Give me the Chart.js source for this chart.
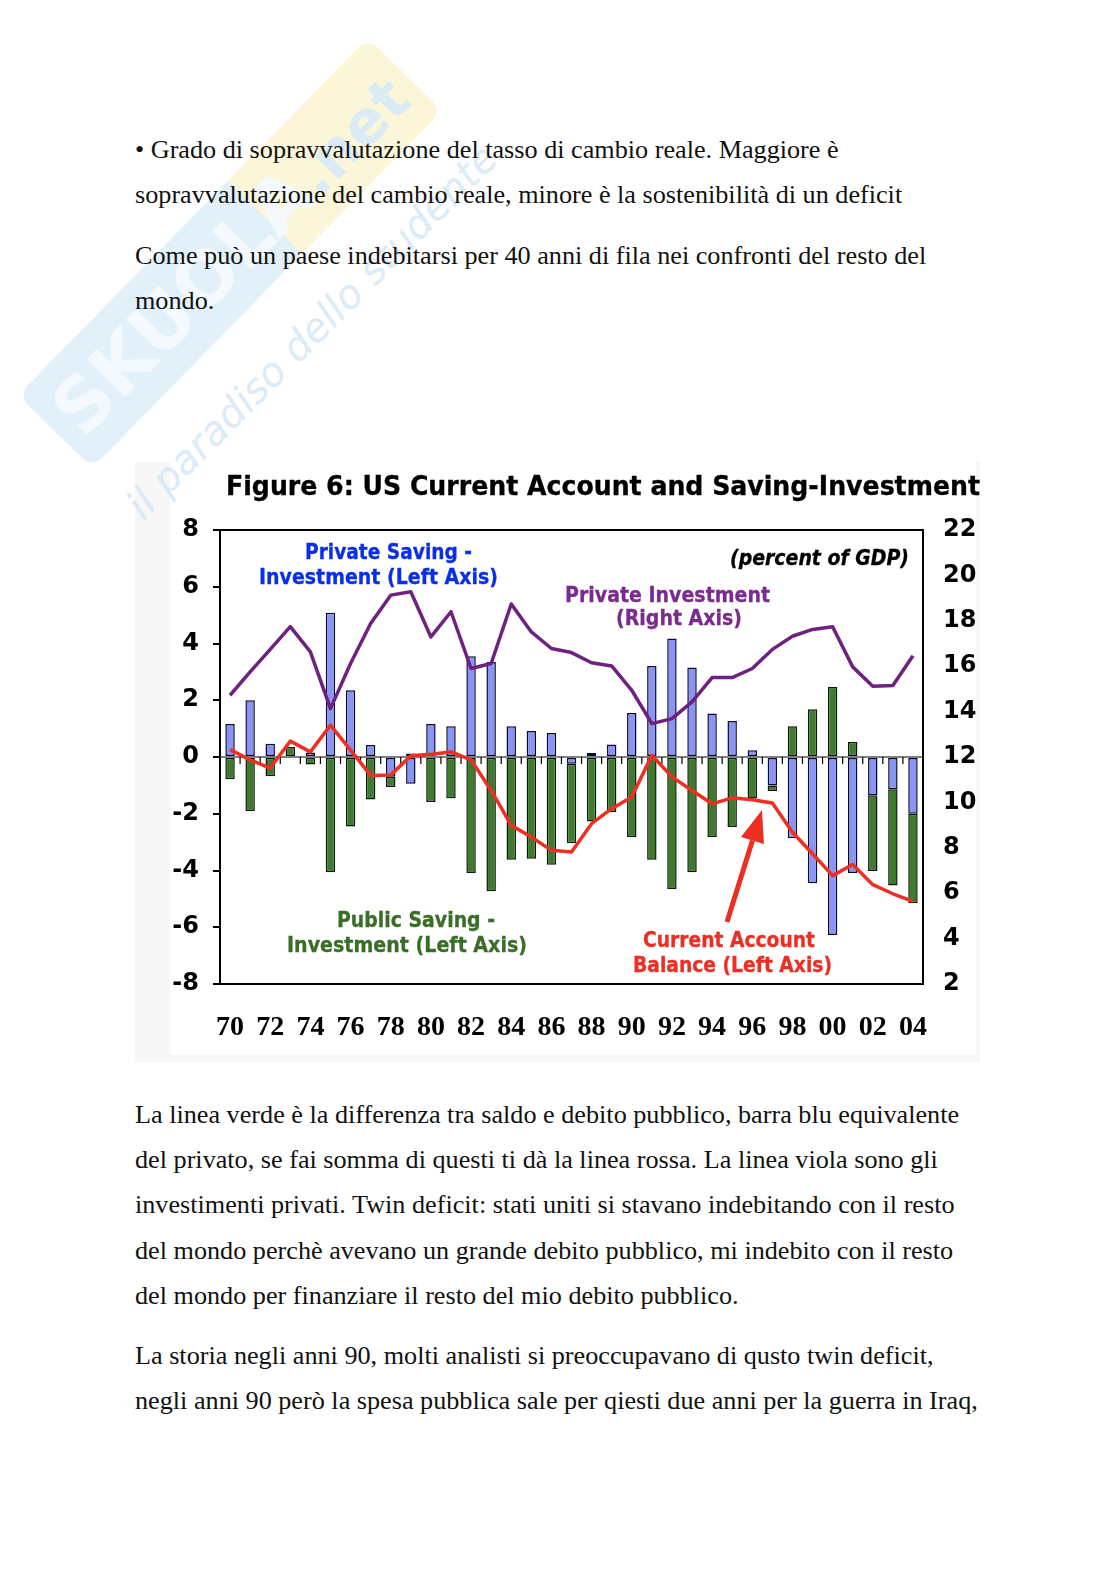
<!DOCTYPE html>
<html lang="it">
<head>
<meta charset="UTF-8">
<title>Figure 6: US Current Account and Saving-Investment</title>
<script src="https://cdn.jsdelivr.net/npm/chart.js"></script>
<style>
  body { margin: 0; width: 1116px; height: 1579px; background: #fff; position: relative; overflow: hidden; }
  .txt { position: absolute; left: 135px; font-family: "Liberation Serif", serif; font-size: 26.2px; line-height: 30px; color: #111; white-space: nowrap; z-index: 3; }
  .shade { position: absolute; left: 135px; top: 462px; width: 845px; height: 600px; background: #f7f7f7; z-index: 1; }
  .inner { position: absolute; left: 170px; top: 462px; width: 806px; height: 593px; background: #fff; z-index: 1; }
  #wrap { position: absolute; left: 130px; top: 455px; width: 870px; height: 600px; z-index: 4; }
  .band { position: absolute; left: -20px; top: 201px; width: 500px; height: 104px; transform: rotate(-45.6deg); border-radius: 14px;
          background: linear-gradient(90deg, #dcedf8 0%, #dcedf8 60%, #fbf5cf 60%, #fbf5cf 100%);
          opacity: 0.8; z-index: 2; font-family: "DejaVu Sans", sans-serif; font-weight: bold; font-size: 74px; line-height: 104px;
          color: #f1f8fd; overflow: hidden; white-space: nowrap; padding-left: 14px; box-sizing: border-box; }
  .band span { color: #d3e7f5; font-size: 60px; }
  .tag { position: absolute; left: 62px; top: 318px; width: 480px; transform: rotate(-45.3deg); font-family: "DejaVu Sans", sans-serif;
         font-style: italic; font-size: 40px; color: #d6e8f5; opacity: 0.85; white-space: nowrap; z-index: 2; }
</style>
</head>
<body>
<div class="band">SKUOLA<span>.net</span></div>
<div class="tag">il paradiso dello studente</div>

<div class="txt" style="top:135px">• Grado di sopravvalutazione del tasso di cambio reale. Maggiore è</div>
<div class="txt" style="top:180px">sopravvalutazione del cambio reale, minore è la sostenibilità di un deficit</div>
<div class="txt" style="top:241px">Come può un paese indebitarsi per 40 anni di fila nei confronti del resto del</div>
<div class="txt" style="top:286px">mondo.</div>

<div class="shade"></div>
<div class="inner"></div>
<div id="wrap"><canvas id="chart" width="870" height="600"></canvas></div>

<div class="txt" style="top:1100px">La linea verde è la differenza tra saldo e debito pubblico, barra blu equivalente</div>
<div class="txt" style="top:1145px">del privato, se fai somma di questi ti dà la linea rossa. La linea viola sono gli</div>
<div class="txt" style="top:1190px">investimenti privati. Twin deficit: stati uniti si stavano indebitando con il resto</div>
<div class="txt" style="top:1236px">del mondo perchè avevano un grande debito pubblico, mi indebito con il resto</div>
<div class="txt" style="top:1281px">del mondo per finanziare il resto del mio debito pubblico.</div>
<div class="txt" style="top:1341px">La storia negli anni 90, molti analisti si preoccupavano di qusto twin deficit,</div>
<div class="txt" style="top:1386px">negli anni 90 però la spesa pubblica sale per qiesti due anni per la guerra in Iraq,</div>

<script>
// data (percent of GDP), 1970-2004
const years = ['70','71','72','73','74','75','76','77','78','79','80','81','82','83','84','85','86','87',
               '88','89','90','91','92','93','94','95','96','97','98','99','00','01','02','03','04'];
const privateSI = [1.16, 2.0, 0.47, 0.0, 0.16, 5.08, 2.35, 0.42, -0.7, -0.94, 1.16, 1.08, 3.55, 3.35, 1.08, 0.92, 0.85, -0.24,
                   0.14, 0.44, 1.55, 3.21, 4.18, 3.15, 1.53, 1.27, 0.24, -1.0, -2.86, -4.45, -6.27, -4.09, -1.35, -1.14, -2.0];
const publicSI = [-0.78, -1.9, -0.68, 0.35, -0.26, -4.06, -2.45, -1.5, -0.36, 0.12, -1.59, -1.45, -4.09, -4.73, -3.62, -3.59, -3.8, -2.8,
                  -2.27, -1.95, -2.82, -3.62, -4.65, -4.06, -2.82, -2.47, -1.46, -0.2, 1.08, 1.68, 2.47, 0.53, -2.67, -3.39, -3.15];
const currentAccount = [0.26, -0.1, -0.39, 0.56, 0.18, 1.12, 0.24, -0.65, -0.63, 0.04, 0.1, 0.18, -0.1, -1.18, -2.41, -2.82, -3.29, -3.35,
                        -2.35, -1.82, -1.41, 0.06, -0.7, -1.18, -1.65, -1.44, -1.51, -1.62, -2.65, -3.41, -4.18, -3.79, -4.5, -4.82, -5.09];
const privateInvestment = [14.72, 15.75, 16.74, 17.74, 16.63, 14.13, 16.12, 17.88, 19.13, 19.28, 17.29, 18.4, 15.9, 16.12, 18.74, 17.51, 16.78, 16.6,
                           16.15, 16.01, 14.94, 13.47, 13.69, 14.43, 15.5, 15.5, 15.9, 16.74, 17.32, 17.62, 17.74, 15.97, 15.12, 15.15, 16.46];
const leftTicks = [-8, -6, -4, -2, 0, 2, 4, 6, 8];
const rightTicks = [2, 4, 6, 8, 10, 12, 14, 16, 18, 20, 22];

// draw text squeezed to the width it has in the figure (a light stroke makes it heavier)
function fitText(ctx, text, x0, x1, base, font, color) {
  ctx.save();
  ctx.font = font;
  const w = ctx.measureText(text).width;
  ctx.translate(x0, base);
  ctx.scale((x1 - x0) / w, 1);
  ctx.fillStyle = color;
  ctx.strokeStyle = color;
  ctx.lineWidth = 0.35;
  ctx.textAlign = 'left';
  ctx.textBaseline = 'alphabetic';
  ctx.fillText(text, 0, 0);
  ctx.strokeText(text, 0, 0);
  ctx.restore();
}

const decor = {
  id: 'decor',
  beforeDatasetsDraw(chart) {
    const {ctx, chartArea: a, scales: {x, y}} = chart;
    const y0 = y.getPixelForValue(0);
    ctx.save();
    ctx.strokeStyle = '#000';
    ctx.lineWidth = 1.2;
    ctx.beginPath();
    ctx.moveTo(a.left, y0);
    ctx.lineTo(a.right, y0);
    const half = (x.getPixelForValue(1) - x.getPixelForValue(0)) / 2;
    for (let i = 1; i < years.length; i++) {
      const px = x.getPixelForValue(i) - half;
      ctx.moveTo(px, y0);
      ctx.lineTo(px, y0 + 7);
    }
    ctx.stroke();
    ctx.restore();
  },
  afterDraw(chart) {
    const {ctx, chartArea: a} = chart;
    ctx.save();
    ctx.strokeStyle = '#000';
    ctx.lineWidth = 2;
    ctx.strokeRect(a.left, a.top, a.right - a.left, a.bottom - a.top);
    ctx.restore();

    const f = 'bold 22px "DejaVu Sans"';
    fitText(ctx, 'Figure 6: US Current Account and Saving-Investment', 96, 850, 40, 'bold 27px "DejaVu Sans"', '#000');
    fitText(ctx, 'Private Saving -', 175, 342, 104, f, '#0b2fe8');
    fitText(ctx, 'Investment (Left Axis)', 129, 368, 129, f, '#0b2fe8');
    fitText(ctx, '(percent of GDP)', 600, 779, 110, 'italic bold 22px "DejaVu Sans"', '#000');
    fitText(ctx, 'Private Investment', 435, 640, 147, f, '#7a2b8e');
    fitText(ctx, '(Right Axis)', 486, 612, 170, f, '#7a2b8e');
    fitText(ctx, 'Public Saving -', 207, 365, 472, f, '#3a6e27');
    fitText(ctx, 'Investment (Left Axis)', 157, 397, 497, f, '#3a6e27');
    fitText(ctx, 'Current Account', 513, 685, 492, f, '#ec2f22');
    fitText(ctx, 'Balance (Left Axis)', 503, 702, 517, f, '#ec2f22');

    // arrow pointing at the current account line
    const tx = 597, ty = 467, hx = 632, hy = 355;
    const len = Math.hypot(hx - tx, hy - ty);
    const ux = (hx - tx) / len, uy = (hy - ty) / len;
    const bx = hx - ux * 32, by = hy - uy * 32;
    ctx.save();
    ctx.strokeStyle = '#ec2f22';
    ctx.fillStyle = '#ec2f22';
    ctx.lineWidth = 5;
    ctx.beginPath();
    ctx.moveTo(tx, ty);
    ctx.lineTo(bx, by);
    ctx.stroke();
    ctx.beginPath();
    ctx.moveTo(hx, hy);
    ctx.lineTo(bx - uy * 12, by + ux * 12);
    ctx.lineTo(bx + uy * 12, by - ux * 12);
    ctx.closePath();
    ctx.fill();
    ctx.restore();
  }
};

const tickFont = { family: 'DejaVu Sans', weight: 'bold', size: 24 };

new Chart(document.getElementById('chart'), {
  type: 'bar',
  data: {
    labels: years,
    datasets: [
      { type: 'line', label: 'Current Account Balance', data: currentAccount, yAxisID: 'y', stack: 'ca', order: 0,
        borderColor: '#ee2f22', borderWidth: 3.5, pointRadius: 0, tension: 0, borderJoinStyle: 'round' },
      { type: 'line', label: 'Private Investment', data: privateInvestment, yAxisID: 'y2', order: 0,
        borderColor: '#6e2180', borderWidth: 3.5, pointRadius: 0, tension: 0, borderJoinStyle: 'round' },
      { label: 'Private Saving - Investment', data: privateSI, yAxisID: 'y', stack: 'si', order: 1,
        backgroundColor: '#8a94f2', borderColor: '#0a0a30', borderWidth: 1.5, borderSkipped: false,
        barPercentage: 0.47, categoryPercentage: 1 },
      { label: 'Public Saving - Investment', data: publicSI, yAxisID: 'y', stack: 'si', order: 1,
        backgroundColor: '#3f7a2f', borderColor: '#0a1a08', borderWidth: 1.5, borderSkipped: false,
        barPercentage: 0.47, categoryPercentage: 1 }
    ]
  },
  options: {
    responsive: false,
    animation: false,
    devicePixelRatio: 1,
    layout: { padding: { top: 75, left: 0, right: 0, bottom: 0 } },
    plugins: { legend: { display: false }, tooltip: { enabled: false } },
    scales: {
      x: {
        stacked: true,
        grid: { display: false, drawTicks: false },
        border: { display: false },
        ticks: {
          autoSkip: false, maxRotation: 0, padding: 27, color: '#000',
          font: { family: 'Liberation Serif', weight: 'bold', size: 28 },
          callback: (v, i) => (i % 2 === 0 ? years[i] : '')
        },
        afterFit: s => { s.height = 71; }
      },
      y: {
        position: 'left', stacked: true,
        min: leftTicks[0], max: leftTicks[leftTicks.length - 1],
        ticks: { stepSize: 2, padding: 14, color: '#000', font: tickFont },
        grid: { drawOnChartArea: false, drawTicks: true, tickLength: 7, color: '#000', lineWidth: 2 },
        border: { display: false },
        afterFit: s => { s.width = 90; }
      },
      y2: {
        position: 'right',
        min: rightTicks[0], max: rightTicks[rightTicks.length - 1],
        ticks: { stepSize: 2, padding: 20, color: '#000', font: tickFont },
        grid: { display: false, drawTicks: false },
        border: { display: false },
        afterFit: s => { s.width = 77; }
      }
    }
  },
  plugins: [decor]
});
</script>
</body>
</html>
